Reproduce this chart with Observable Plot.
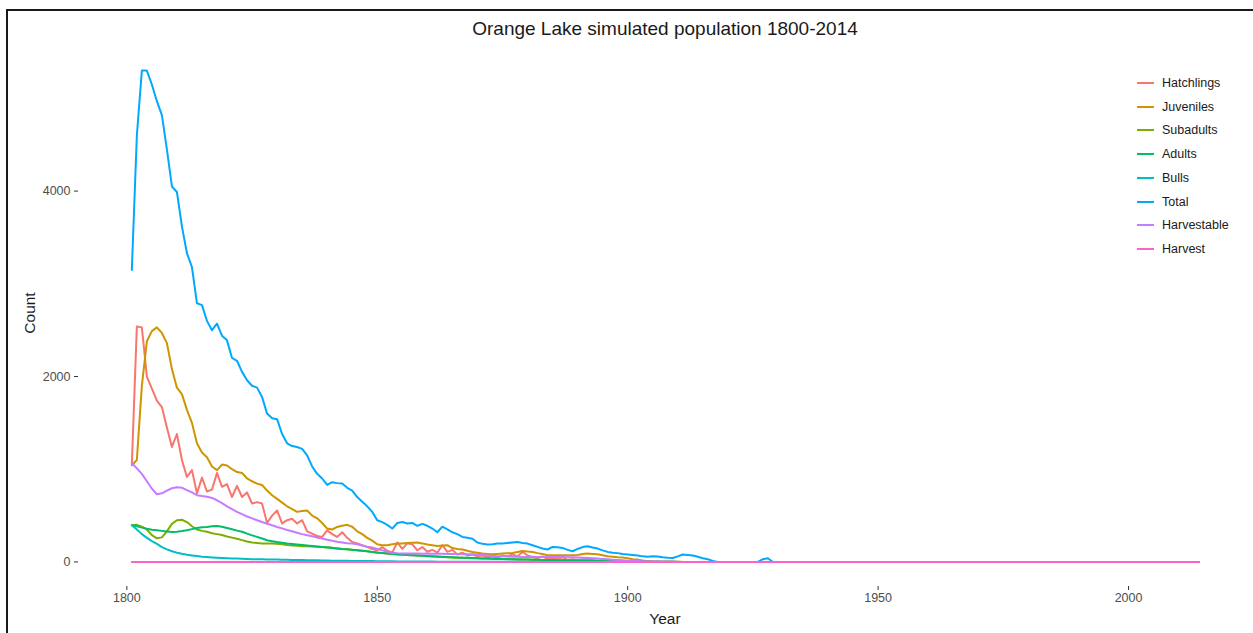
<!DOCTYPE html>
<html>
<head>
<meta charset="utf-8">
<script src="https://cdn.jsdelivr.net/npm/d3@7"></script>
<script src="https://cdn.jsdelivr.net/npm/@observablehq/plot@0.6"></script>
<style>
  body { margin: 0; background: #fff; font-family: "Liberation Sans", Arial, sans-serif; }
  #wrap { position: relative; width: 1253px; height: 633px; overflow: hidden; background: #fff; }
  #frame { position: absolute; left: 6px; top: 9px; width: 1300px; height: 700px;
           border-top: 2px solid #1a1a1a; border-left: 2px solid #1a1a1a; pointer-events: none; }
  #chart { position: absolute; left: 0; top: 0; }
  #title { position: absolute; top: 19px; left: 78px; width: 1174px; text-align: center;
           font-size: 19px; line-height: 20px; color: #1a1a1a; white-space: nowrap; }
  #xlab { position: absolute; top: 610px; left: 78px; width: 1174px; text-align: center;
          font-size: 15.5px; line-height: 18px; color: #1a1a1a; }
  #ylab { position: absolute; left: 30px; top: 313px; transform: translate(-50%, -50%) rotate(-90deg);
          font-size: 15.5px; line-height: 18px; color: #1a1a1a; white-space: nowrap; }
  #legend { position: absolute; left: 1137px; top: 71px; font-size: 12.5px; color: #1a1a1a; }
  .row { display: flex; align-items: center; height: 23.76px; }
  .row svg { margin-right: 8px; }
</style>
</head>
<body>
<div id="wrap">
  <div id="chart"></div>
  <div id="title">Orange Lake simulated population 1800-2014</div>
  <div id="xlab">Year</div>
  <div id="ylab">Count</div>
  <div id="legend"></div>
  <div id="frame"></div>
</div>
<script>
// Simulated yearly counts, Orange Lake, starting in 1801.
// Years after the last listed value (through 2014) are zero.
const firstYear = 1801;
const lastYear = 2014;

const seriesNames = ["Hatchlings", "Juveniles", "Subadults", "Adults", "Bulls", "Total", "Harvestable", "Harvest"];
const seriesColors = ["#F8766D", "#CD9600", "#7CAE00", "#00BE67", "#00BFC4", "#00A9FF", "#C77CFF", "#FF61CC"];

const hatchlings = [
  1050, 2540, 2530, 2000, 1870, 1740, 1670, 1450, 1240, 1380,
  1100, 916, 990, 740, 910, 760, 780, 960, 810, 840,
  700, 820, 700, 750, 630, 645, 630, 420, 500, 555,
  415, 450, 465, 415, 450, 330, 305, 280, 270, 340,
  300, 270, 320, 260, 216, 200, 180, 160, 140, 126,
  160, 120, 100, 210, 140, 200, 190, 126, 160, 110,
  130, 100, 180, 108, 130, 80, 100, 70, 80, 60,
  70, 50, 60, 40, 70, 60, 80, 60, 110, 70,
  50, 40, 60, 30, 40, 30, 50, 20, 30, 20,
  25, 30, 20, 15, 20, 10, 15, 10, 12, 8,
  10, 6, 5, 8, 4, 5, 3, 4, 2, 3
];

const juveniles = [
  1043, 1100, 1900, 2380, 2490, 2530, 2470, 2360, 2080, 1880,
  1810, 1640, 1500, 1280, 1180, 1130, 1030, 990, 1050, 1040,
  1000, 970, 960, 900, 870, 845, 830, 770, 720, 680,
  640, 600, 570, 540, 550, 555, 500, 470, 420, 360,
  350, 377, 390, 400, 380, 330, 300, 260, 230, 190,
  180, 180, 190, 198, 200, 205, 208, 209, 200, 187,
  180, 173, 176, 180, 150, 140, 134, 120, 108, 100,
  90, 86, 83, 86, 90, 94, 97, 108, 118, 112,
  108, 95, 85, 72, 72, 72, 72, 72, 72, 75,
  85, 90, 86, 83, 72, 61, 55, 50, 47, 40,
  30, 25, 15, 8
];

const subadults = [
  396, 400, 380, 350, 290, 255, 265, 330, 410, 450,
  455, 430, 385, 350, 335, 325, 310, 300, 290, 275,
  262, 250, 235, 220, 210, 205, 200, 198, 198, 196,
  190, 182, 178, 174, 170, 168, 166, 164, 162, 158,
  152, 146, 140, 136, 130, 126, 120, 114, 108, 100,
  95, 90, 85, 80, 78, 75, 72, 70, 66, 62,
  59, 56, 53, 50, 48, 46, 44, 42, 41, 40,
  38, 36, 34, 33, 32, 31, 30, 28, 26, 25,
  24, 23, 22, 21, 20, 19, 18, 17, 16, 15,
  14, 13, 12, 11, 10, 9, 8, 7, 7, 6,
  5, 5, 4, 4, 3, 3, 2, 2, 1, 1
];

const adults = [
  396, 385, 370, 358, 348, 342, 335, 328, 323, 326,
  333, 342, 354, 365, 373, 378, 385, 388, 380, 366,
  352, 338, 325, 305, 287, 270, 252, 234, 224, 215,
  208, 200, 194, 188, 182, 177, 172, 167, 162, 156,
  150, 146, 140, 136, 131, 126, 120, 114, 108, 102,
  97, 92, 87, 83, 80, 76, 73, 70, 67, 64,
  61, 58, 55, 52, 50, 48, 46, 44, 42, 40,
  38, 36, 34, 32, 31, 30, 28, 27, 26, 25,
  24, 23, 22, 21, 20, 19, 18, 17, 16, 15,
  14, 13, 12, 11, 10, 9, 8, 7, 6, 5,
  5, 4, 4, 3, 3, 2, 2, 1, 1
];

const bulls = [
  396, 350, 300, 260, 225, 195, 160, 135, 115, 100,
  88, 78, 70, 63, 57, 53, 49, 46, 43, 40,
  38, 36, 34, 32, 30, 29, 28, 27, 26, 25,
  24, 23, 22, 21, 20, 19, 18, 17, 16, 15,
  14, 13, 12, 12, 11, 10, 10, 9, 9, 8,
  8, 7, 7, 6, 6, 5, 5, 5, 4, 4,
  4, 3, 3, 3, 3, 2, 2, 2, 2, 2,
  1, 1, 1, 1, 1, 1, 1, 1, 1
];

const total = [
  3150, 4600, 5300, 5300, 5150, 4970, 4820, 4450, 4050, 3990,
  3620, 3330, 3180, 2790, 2770, 2600, 2500, 2570, 2440, 2390,
  2200, 2170, 2050, 1960, 1900, 1880, 1780, 1600, 1550, 1540,
  1380, 1280, 1250, 1240, 1220, 1150, 1030, 950, 900, 830,
  860, 850, 845, 800, 770, 700, 650, 600, 540, 450,
  430, 400, 360, 420, 430, 414, 420, 390, 410, 390,
  360, 320, 380, 350, 320, 300, 270, 260, 250, 210,
  195, 187, 190, 198, 200, 205, 210, 216, 205, 198,
  180, 162, 145, 134, 162, 158, 151, 130, 115, 140,
  160, 169, 155, 144, 125, 108, 100, 95, 85, 80,
  75, 70, 60, 55, 60, 58, 50, 45, 42, 60,
  80, 75, 70, 55, 40, 30, 10, 0, 0, 0,
  0, 0, 0, 0, 0, 0, 30, 40
];

const harvestable = [
  1061, 1010, 950, 870, 790, 730, 740, 770, 795, 805,
  800, 775, 750, 720, 710, 702, 690, 665, 635, 600,
  570, 540, 515, 490, 470, 450, 431, 412, 395, 377,
  362, 345, 330, 315, 300, 288, 276, 264, 252, 240,
  228, 218, 210, 202, 198, 190, 178, 165, 155, 140,
  125, 110, 100, 95, 92, 90, 91, 90, 89, 90,
  88, 88, 87, 86, 86, 85, 84, 83, 82, 80,
  75, 70, 66, 62, 60, 58, 56, 55, 54, 54,
  55, 54, 53, 54, 53, 52, 52, 50, 50, 48,
  45, 42, 40, 36, 32, 28, 24, 20, 17, 14,
  12, 10, 8, 6, 5, 4, 3, 2, 1
];

const harvest = [0];

const seriesValues = [hatchlings, juveniles, subadults, adults, bulls, total, harvestable, harvest];

// Long table: one row per series and year, series in legend order so Harvest draws on top.
const rows = [];
seriesValues.forEach((values, i) => {
  for (let year = firstYear; year <= lastYear; year++) {
    rows.push({series: seriesNames[i], year, count: values[year - firstYear] ?? 0});
  }
});

const xTicks = [1800, 1850, 1900, 1950, 2000];
const yTicks = [0, 2000, 4000];

// Padded domains (5% of the data range on each side)
const xPad = (lastYear - firstYear) * 0.05;
const yMax = d3.max(rows, d => d.count);
const yPad = yMax * 0.05;

const chart = Plot.plot({
  width: 1253,
  height: 633,
  marginLeft: 78,
  marginRight: 1.5,
  marginTop: 45.5,
  marginBottom: 47,
  style: {fontFamily: "Liberation Sans, Arial, sans-serif", background: "transparent"},
  x: {domain: [firstYear - xPad, lastYear + xPad]},
  y: {domain: [-yPad, yMax + yPad]},
  color: {domain: seriesNames, range: seriesColors},
  marks: [
    Plot.axisX({ticks: xTicks, tickFormat: d => String(d), tickSize: 4, tickPadding: 3,
                fontSize: 12.5, stroke: "#333", fill: "#4d4d4d", label: null}),
    Plot.axisY({ticks: yTicks, tickFormat: d => String(d), tickSize: 4, tickPadding: 4,
                fontSize: 12.5, stroke: "#333", fill: "#4d4d4d", label: null}),
    Plot.line(rows, {x: "year", y: "count", z: "series", stroke: "series",
                     strokeWidth: 2, curve: "linear"})
  ]
});
document.getElementById("chart").appendChild(chart);

// Legend
const legend = d3.select("#legend");
seriesNames.forEach((name, i) => {
  const row = legend.append("div").attr("class", "row");
  const svg = row.append("svg").attr("width", 17).attr("height", 4);
  svg.append("line").attr("x1", 0).attr("x2", 17).attr("y1", 2).attr("y2", 2)
     .attr("stroke", seriesColors[i]).attr("stroke-width", 2);
  row.append("span").text(name);
});
</script>
</body>
</html>
